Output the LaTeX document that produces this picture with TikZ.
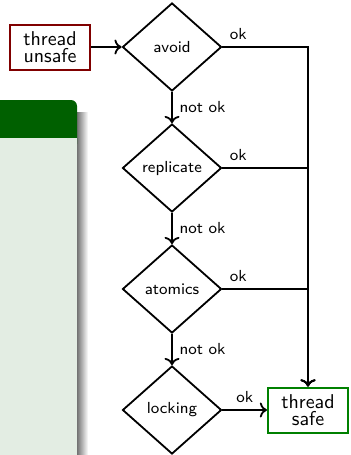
\documentclass[tikz,border=0pt]{standalone}
\usepackage{tikz}
\usetikzlibrary{positioning, shapes.geometric, arrows, arrows.meta}

\definecolor{blockhead}{RGB}{0,96,0}
\definecolor{blockbody}{RGB}{227,237,227}
\definecolor{unsafered}{RGB}{128,0,0}
\definecolor{safegreen}{RGB}{0,128,0}

\begin{document}
\begin{tikzpicture}[x=0.5pt, y=-0.5pt, line width=0.9pt, font=\sffamily,
    choice/.style={diamond, draw, minimum width=49.5pt, minimum height=44pt, inner sep=0pt, font=\sffamily\footnotesize},
    state/.style={draw, line width=1pt, minimum width=40pt, minimum height=22.5pt, inner sep=1pt, align=center, font=\sffamily\fontsize{10}{8.5}\selectfont},
    lbl/.style={font=\sffamily\footnotesize}]
    \clip (0, 0) rectangle (351, 455);

    % block on the left
    \shade[left color=black!55, right color=white] (77, 112) rectangle (88, 470);
    \fill[blockhead, rounded corners=3pt] (-20, 100) rectangle (77, 150);
    \fill[blockbody] (-20, 138) rectangle (77, 470);

    \node[state, draw=unsafered] (unsafe) at (50, 47) {thread\\unsafe};
    \node[choice] (avoid) at (172, 47) {avoid};
    \node[choice] (replicate) at (172, 168) {replicate};
    \node[choice] (atomics) at (172, 289) {atomics};
    \node[choice] (locking) at (172, 410) {locking};
    \node[state, draw=safegreen] (safe) at (308, 410) {thread\\safe};

    \draw [->] (unsafe.east) -- (avoid.west);
    \draw [->] (avoid.south) -- (replicate.north) node [lbl, midway, right] {not ok};
    \draw [->] (replicate.south) -- (atomics.north) node [lbl, midway, right] {not ok};
    \draw [->] (atomics.south) -- (locking.north) node [lbl, midway, right] {not ok};

    \draw [->] (avoid.east) node [lbl, above right] {ok} -| (safe.north);
    \draw [->] (replicate.east) node [lbl, above right] {ok} -| (safe.north);
    \draw [->] (atomics.east) node [lbl, above right] {ok} -| (safe.north);
    \draw [->] (locking.east) -- (safe.west) node [lbl, midway, above] {ok};
\end{tikzpicture}
\end{document}
